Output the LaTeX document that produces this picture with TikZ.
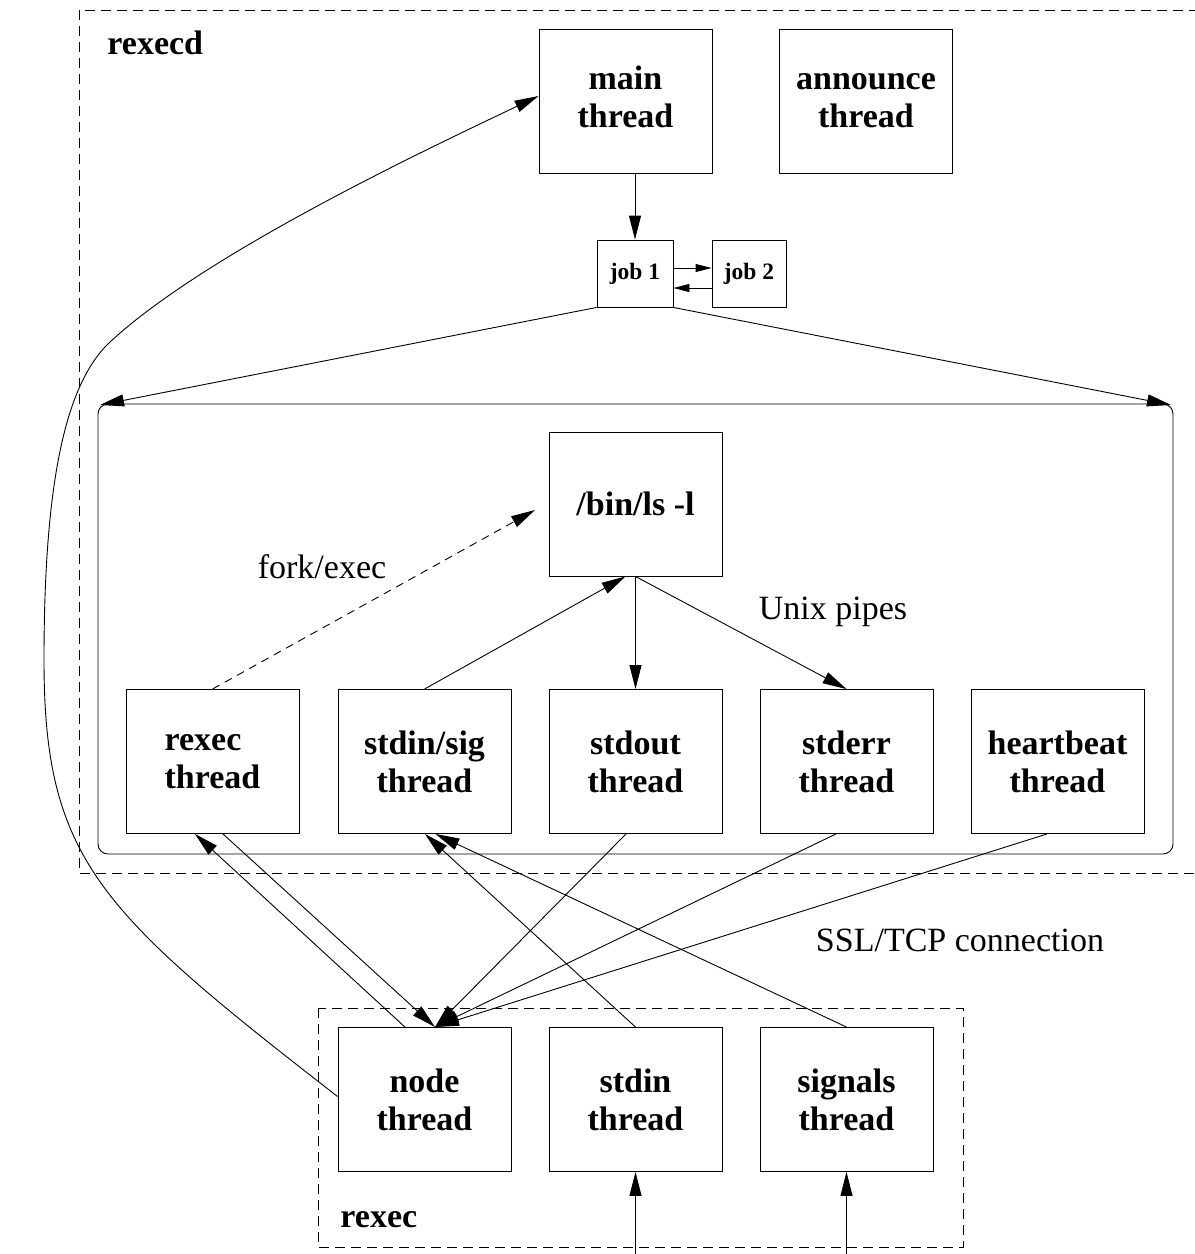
\documentclass[tikz,border=0pt]{standalone}
\usepackage{fontspec}
\setmainfont{Liberation Serif}
\usetikzlibrary{arrows.meta,calc}
\begin{document}
\begin{tikzpicture}[x=1pt,y=-1pt,line width=0.9pt,
  tbox/.style={draw, minimum width=173pt, minimum height=144pt, inner sep=0pt, align=center,
    font=\bfseries\fontsize{34}{38}\selectfont},
  jbox/.style={draw, minimum height=67pt, inner sep=0pt, align=center,
    font=\bfseries\fontsize{23.5}{26}\selectfont},
  arr/.style={-{Triangle[length=24pt,width=12pt]}},
  sarr/.style={-{Triangle[length=16pt,width=8pt]}},
  lbl/.style={font=\fontsize{34}{38}\selectfont, inner sep=0pt},
  blbl/.style={font=\bfseries\fontsize{34}{38}\selectfont, inner sep=0pt, anchor=west},
  dbox/.style={dash pattern=on 10pt off 6pt}]
\useasboundingbox (0,0) rectangle (1195,1254);

% outer rexecd frame
\draw[dbox] (1215,10) -- (79,10) -- (79,873) -- (1215,873);
\node[blbl] (rexecdlbl) at (107,43) {rexecd};

% rounded process box
\draw[rounded corners=10pt] (98,404) rectangle (1173,854);
\coordinate (cornerL) at (100,405);
\coordinate (cornerR) at (1171,405);

% rexec frame
\draw[dbox] (318,1008) rectangle (963,1247);
\node[blbl] (rexeclbl) at (340,1220) {rexec};

% top threads
\node[tbox] (mainT) at (625.5,101) {\raisebox{5pt}{\begin{tabular}{@{}c@{}}main\\thread\end{tabular}}};
\node[tbox] (annT) at (866,101) {\raisebox{5pt}{\begin{tabular}{@{}c@{}}announce\\thread\end{tabular}}};

% jobs
\node[jbox, minimum width=76pt] (job1) at (635,273.5) {job 1};
\node[jbox, minimum width=74pt] (job2) at (749,273.5) {job 2};

% process
\node[tbox] (binls) at (635.5,504) {/bin/ls -l};
\node[tbox, align=left] (rexecT) at (212.5,761.5) {rexec\\thread};
\node[tbox] (sigT) at (424.5,761.5) {stdin/sig\\thread};
\node[tbox] (outT) at (635.5,761.5) {stdout\\thread};
\node[tbox] (errT) at (846.5,761.5) {stderr\\thread};
\node[tbox] (hbT) at (1057.5,761.5) {heartbeat\\thread};

% bottom threads
\node[tbox] (nodeT) at (424.5,1099.5) {node\\thread};
\node[tbox] (stdinT) at (635.5,1099.5) {stdin\\thread};
\node[tbox] (sigsT) at (846.5,1099.5) {signals\\thread};

% labels
\node[lbl] (forklbl) at (322,567) {fork/exec};
\node[lbl] (pipelbl) at (833,612) {Unix pipes};
\node[lbl] (ssllbl) at (960,940) {SSL/TCP connection};

% main -> job1, job links
\draw[arr] (mainT.south -| job1.north) -- (job1.north);
\draw[sarr] ($(job1.east)+(0,-5.5)$) -- ($(job2.west)+(0,-5.5)$);
\draw[sarr] ($(job2.west)+(0,14.5)$) -- ($(job1.east)+(0,14.5)$);
\draw[arr] (job1.south west) -- (cornerL);
\draw[arr] (job1.south east) -- (cornerR);

% inside process box
\coordinate (forktip) at (535,510);
\draw[arr, dash pattern=on 8pt off 6pt] (rexecT.north) -- (forktip);
\draw[arr] (sigT.north) -- ($(binls.south)+(-10,0)$);
\draw[arr] (binls.south) -- (outT.north);
\draw[arr] (binls.south) -- (errT.north);

% network connections
\coordinate (ntip) at ($(nodeT.north)+(10.5,0)$);
\draw[arr] ($(rexecT.south)+(10.5,0)$) -- (ntip);
\draw[arr] ($(outT.south)+(-9.5,0)$) -- (ntip);
\draw[arr] ($(errT.south)+(-10.5,0)$) -- (ntip);
\draw[arr] ($(hbT.south)+(-10.5,0)$) -- (ntip);
\draw[arr] ($(nodeT.north)+(-19.5,0)$) -- ($(rexecT.south)+(-17.5,0)$);
\draw[arr] (stdinT.north) -- ($(sigT.south)+(0.5,0)$);
\draw[arr] (sigsT.north) -- ($(sigT.south)+(11,0)$);

% node -> main curve
\coordinate (cstart) at ($(nodeT.west)+(0,-3)$);
\coordinate (cend) at ($(mainT.west)+(0,-5)$);
\coordinate (cj1) at (44,660);
\coordinate (cj2) at (110,342);
\draw[arr] (cstart) .. controls (100,912) and (44,860) .. (cj1)
  .. controls (44,480) and (66,383) .. (cj2)
  .. controls (205,254) and (421,152) .. (cend);

% external inputs
\coordinate (in1) at (635.5,1262);
\coordinate (in2) at (846.5,1262);
\draw[arr] (in1) -- (stdinT.south);
\draw[arr] (in2) -- (sigsT.south);
\end{tikzpicture}
\end{document}
